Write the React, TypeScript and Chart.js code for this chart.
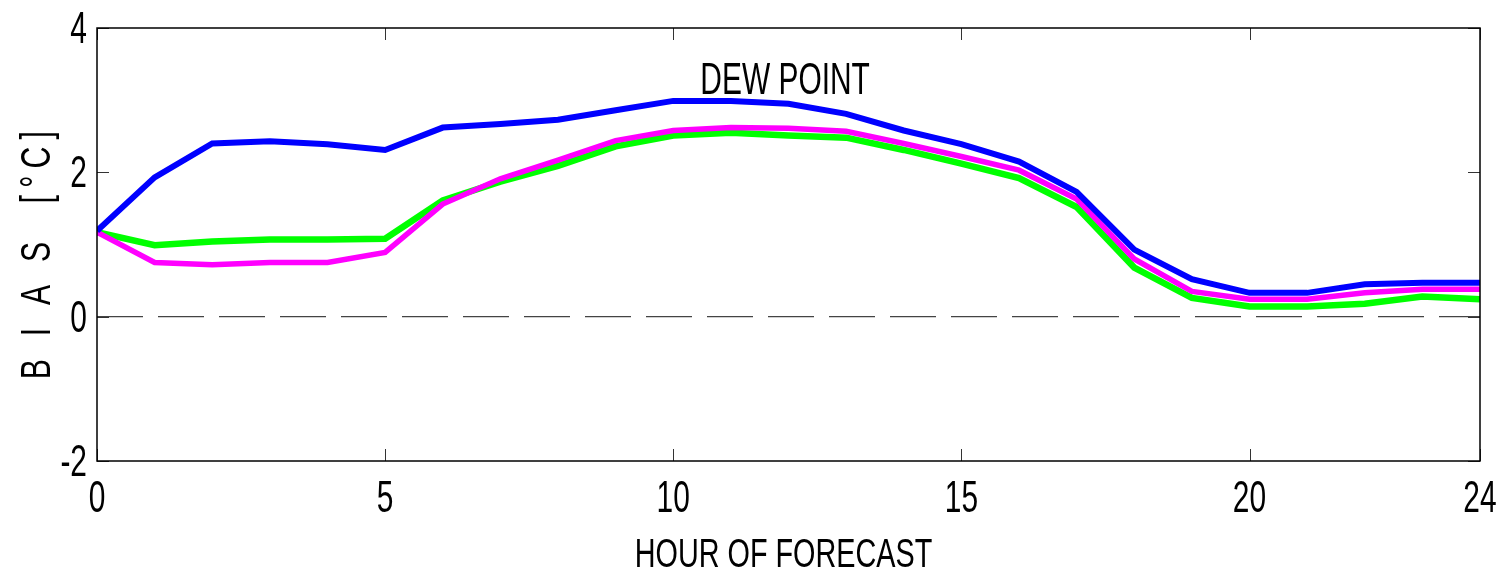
import React, { useEffect, useRef } from "react";
import { Chart, registerables } from "chart.js";

Chart.register(...registerables);

const hours = [0, 1, 2, 3, 4, 5, 6, 7, 8, 9, 10, 11, 12, 13, 14, 15, 16, 17, 18, 19, 20, 21, 22, 23, 24];
const blueBias = [1.19, 1.93, 2.40, 2.43, 2.39, 2.31, 2.62, 2.67, 2.73, 2.86, 2.99, 2.99, 2.95, 2.81, 2.58, 2.39, 2.15, 1.73, 0.93, 0.52, 0.33, 0.33, 0.45, 0.47, 0.47];
const greenBias = [1.17, 0.99, 1.04, 1.07, 1.07, 1.08, 1.61, 1.87, 2.09, 2.36, 2.51, 2.55, 2.51, 2.48, 2.31, 2.12, 1.92, 1.52, 0.68, 0.26, 0.14, 0.14, 0.18, 0.28, 0.24];
const magentaBias = [1.17, 0.75, 0.72, 0.75, 0.75, 0.89, 1.56, 1.91, 2.17, 2.44, 2.58, 2.62, 2.61, 2.57, 2.40, 2.22, 2.03, 1.63, 0.80, 0.35, 0.24, 0.24, 0.33, 0.38, 0.38];
const zeroLineX = [0, 24];
const zeroLineY = [0, 0];
const xTicks = [0, 5, 10, 15, 20, 24];
const yTicks = [-2, 0, 2, 4];
const xTitle = "HOUR OF FORECAST";
const yTitle = "B I A S  [°C]";
const annotationText = "DEW POINT";
const annotationX = 10.47;
const annotationY = 3.08;

const FONT = '"Liberation Sans", Arimo, Arial, sans-serif';

function drawNarrowText(
  ctx: CanvasRenderingContext2D,
  text: string,
  x: number,
  y: number,
  size: number,
  sx: number,
  align: CanvasTextAlign,
  rotate = false,
  spacing = 0
) {
  ctx.save();
  ctx.translate(x, y);
  if (rotate) ctx.rotate(-Math.PI / 2);
  ctx.scale(sx, 1);
  ctx.font = `${size}px ${FONT}`;
  (ctx as any).letterSpacing = `${spacing}px`;
  ctx.textAlign = align;
  ctx.textBaseline = "alphabetic";
  ctx.fillStyle = "#000";
  ctx.fillText(text, 0, 0);
  ctx.restore();
}

const framePlugin = {
  id: "framePlugin",
  afterDatasetsDraw(chart: any) {
    const { ctx, chartArea, scales } = chart;
    const { left, right, top, bottom } = chartArea;
    ctx.save();
    // inward ticks
    ctx.strokeStyle = "#333";
    ctx.lineWidth = 1;
    const tl = 12;
    ctx.beginPath();
    for (const t of scales.y.ticks) {
      const y = Math.round(scales.y.getPixelForValue(t.value)) + 0.5;
      ctx.moveTo(left, y);
      ctx.lineTo(left + tl, y);
      ctx.moveTo(right, y);
      ctx.lineTo(right - tl, y);
    }
    for (const t of scales.x.ticks) {
      const x = Math.round(scales.x.getPixelForValue(t.value)) + 0.5;
      ctx.moveTo(x, bottom);
      ctx.lineTo(x, bottom - tl);
      ctx.moveTo(x, top);
      ctx.lineTo(x, top + tl);
    }
    ctx.stroke();
    // frame
    ctx.strokeStyle = "#000";
    ctx.lineWidth = 1.5;
    ctx.strokeRect(left, top, right - left, bottom - top);
    ctx.restore();

    // tick labels
    for (const t of scales.x.ticks) {
      const x = scales.x.getPixelForValue(t.value);
      drawNarrowText(ctx, String(t.value), x, bottom + 51, 44, 0.68, "center");
    }
    for (const t of scales.y.ticks) {
      const y = scales.y.getPixelForValue(t.value);
      drawNarrowText(ctx, String(t.value), left - 10, y + 15, 44, 0.68, "right");
    }
    // axis titles
    drawNarrowText(ctx, xTitle, (left + right) / 2 - 5, bottom + 106, 40, 0.72, "center");
    drawNarrowText(ctx, yTitle, 50, (top + bottom) / 2 + 7, 42, 0.72, "center", true, 10);
    // annotation
    drawNarrowText(
      ctx,
      annotationText,
      scales.x.getPixelForValue(annotationX),
      scales.y.getPixelForValue(annotationY),
      44,
      0.68,
      "left"
    );
  },
};

export default function App() {
  const canvasRef = useRef<HTMLCanvasElement | null>(null);

  useEffect(() => {
    const canvas = canvasRef.current;
    if (!canvas) return;
    const toPts = (arr: number[]) => hours.map((h, i) => ({ x: h, y: arr[i] }));
    const chart = new Chart(canvas, {
      type: "line",
      data: {
        datasets: [
          {
            label: "zero",
            data: zeroLineX.map((x, i) => ({ x, y: zeroLineY[i] })),
            borderColor: "#444",
            borderWidth: 1.3,
            borderDash: [46, 15],
            pointRadius: 0,
            order: 4,
          },
          {
            label: "green",
            data: toPts(greenBias),
            borderColor: "#00ff00",
            borderWidth: 6.5,
            pointRadius: 0,
            order: 3,
          },
          {
            label: "magenta",
            data: toPts(magentaBias),
            borderColor: "#ff00ff",
            borderWidth: 5.5,
            pointRadius: 0,
            order: 2,
          },
          {
            label: "blue",
            data: toPts(blueBias),
            borderColor: "#0000ff",
            borderWidth: 6,
            pointRadius: 0,
            order: 1,
          },
        ],
      },
      options: {
        animation: false,
        responsive: false,
        maintainAspectRatio: false,
        layout: { autoPadding: false, padding: { top: 28, right: 22, left: 0, bottom: 0 } },
        plugins: { legend: { display: false }, tooltip: { enabled: false } },
        scales: {
          x: {
            type: "linear",
            min: 0,
            max: 24,
            afterBuildTicks: (scale: any) => {
              scale.ticks = xTicks.map((v) => ({ value: v }));
            },
            afterFit: (scale: any) => {
              scale.height = 123;
            },
            grid: { display: false, drawTicks: false },
            border: { display: false },
            ticks: { display: false },
          },
          y: {
            type: "linear",
            min: -2,
            max: 4,
            afterBuildTicks: (scale: any) => {
              scale.ticks = yTicks.map((v) => ({ value: v }));
            },
            afterFit: (scale: any) => {
              scale.width = 97;
            },
            grid: { display: false, drawTicks: false },
            border: { display: false },
            ticks: { display: false },
          },
        },
      },
      plugins: [framePlugin],
    });
    return () => chart.destroy();
  }, []);

  return (
    <div style={{ position: "fixed", left: 0, top: 0, width: 1502, height: 584, background: "#fff" }}>
      <canvas ref={canvasRef} width={1502} height={584} style={{ width: 1502, height: 584 }} />
    </div>
  );
}
